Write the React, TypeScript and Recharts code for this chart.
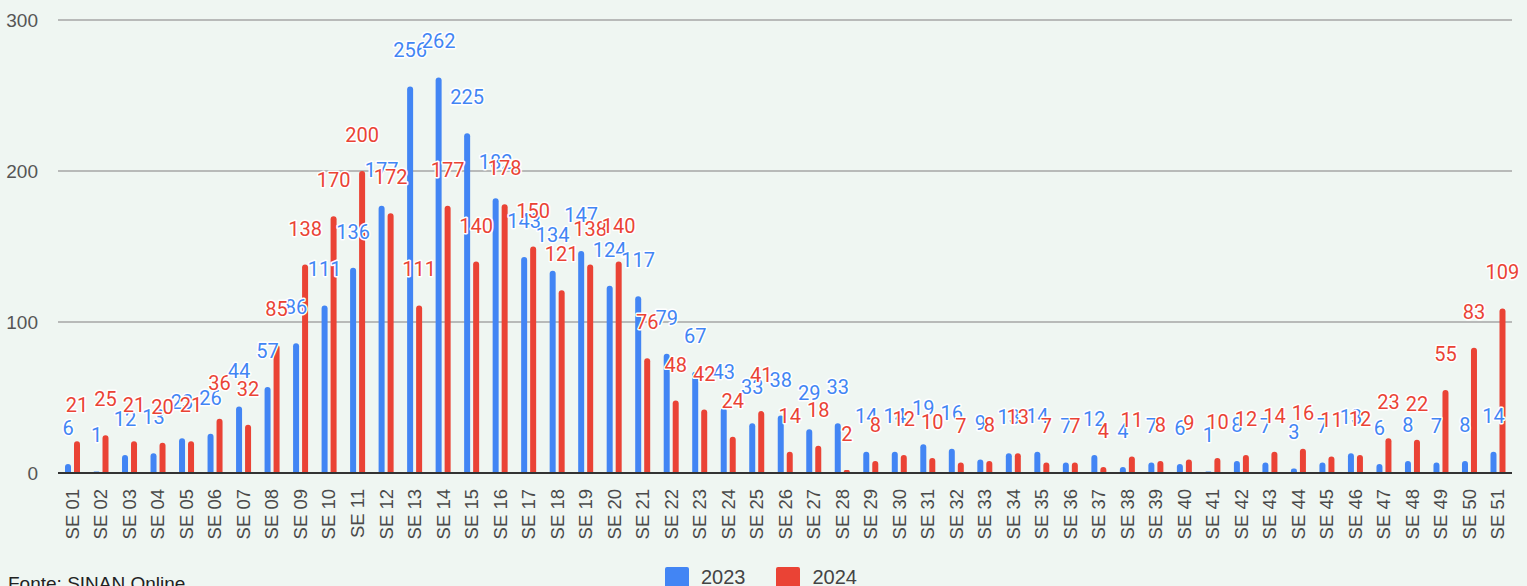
import { Bar, BarChart, CartesianGrid, LabelList, XAxis, YAxis } from "recharts";

const weeks = Array.from({ length: 51 }, (_, i) => `SE ${String(i + 1).padStart(2, "0")}`);

const cases2023 = [
  6, 1, 12, 13, 23, 26, 44, 57, 86, 111, 136, 177, 256, 262, 225, 182, 143, 134, 147, 124, 117, 79, 67, 43, 33,
  38, 29, 33, 14, 14, 19, 16, 9, 13, 14, 7, 12, 4, 7, 6, 1, 8, 7, 3, 7, 13, 6, 8, 7, 8, 14,
];

const cases2024 = [
  21, 25, 21, 20, 21, 36, 32, 85, 138, 170, 200, 172, 111, 177, 140, 178, 150, 121, 138, 140, 76, 48, 42, 24, 41,
  14, 18, 2, 8, 12, 10, 7, 8, 13, 7, 7, 4, 11, 8, 9, 10, 12, 14, 16, 11, 12, 23, 22, 55, 83, 109,
];

const yTicks = [0, 100, 200, 300];

const BLUE = "#4285f4";
const RED = "#ea4335";

const data = weeks.map((w, i) => ({ week: w, a: cases2023[i], b: cases2024[i] }));

function makeLabel(color: string) {
  return (props: any) => {
    const { x, y, width, value } = props;
    return (
      <text
        x={x + width / 2}
        y={y - 29}
        textAnchor="middle"
        fontSize={20}
        fontFamily="Roboto, Arial, sans-serif"
        fill={color}
        stroke="#fff"
        strokeWidth={3}
        strokeLinejoin="round"
        paintOrder="stroke"
      >
        {value}
      </text>
    );
  };
}

function WeekTick(props: any) {
  const { x, y, payload } = props;
  return (
    <text
      x={x}
      y={y + 8}
      transform={`rotate(-90 ${x} ${y + 8})`}
      textAnchor="end"
      dy="0.36em"
      fontSize={18.5}
      fontFamily="Arial, 'Liberation Sans', sans-serif"
      fill="#4a4a4a"
    >
      {payload.value}
    </text>
  );
}

export default function App() {
  return (
    <div
      style={{
        position: "absolute",
        top: 0,
        left: 0,
        width: 1527,
        height: 586,
        overflow: "hidden",
        background: "#eff6f2",
        fontFamily: "Arial, 'Liberation Sans', sans-serif",
      }}
    >
      <BarChart
        width={1527}
        height={586}
        data={data}
        margin={{ top: 20, right: 15, left: 0, bottom: 0 }}
        barSize={6}
        barGap={3}
      >
        <CartesianGrid vertical={false} stroke="#a6a6a6" strokeWidth={1.5} />
        <XAxis
          dataKey="week"
          interval={0}
          height={113}
          tick={<WeekTick />}
          tickLine={false}
          axisLine={{ stroke: "#333", strokeWidth: 2 }}
        />
        <YAxis
          domain={[0, 300]}
          ticks={yTicks}
          width={58}
          tickSize={0}
          tickMargin={20}
          axisLine={false}
          tickLine={false}
          tick={{ fontSize: 19, fill: "#555", fontFamily: "Arial, 'Liberation Sans', sans-serif" }}
        />
        <Bar dataKey="a" name="2023" fill={BLUE} radius={[3, 3, 0, 0]} isAnimationActive={false}>
          <LabelList dataKey="a" content={makeLabel(BLUE)} />
        </Bar>
        <Bar dataKey="b" name="2024" fill={RED} radius={[3, 3, 0, 0]} isAnimationActive={false}>
          <LabelList dataKey="b" content={makeLabel(RED)} />
        </Bar>
      </BarChart>

      <div style={{ position: "absolute", left: 665, top: 566, display: "flex", alignItems: "center", fontSize: 20, color: "#444" }}>
        <span style={{ width: 24, height: 21, background: BLUE, borderRadius: 2, marginRight: 12 }} />
        <span style={{ marginRight: 30 }}>2023</span>
        <span style={{ width: 24, height: 21, background: RED, borderRadius: 2, marginRight: 13 }} />
        <span>2024</span>
      </div>
      <div style={{ position: "absolute", left: 8, top: 573, fontSize: 19, color: "#222" }}>Fonte: SINAN Online</div>
    </div>
  );
}
